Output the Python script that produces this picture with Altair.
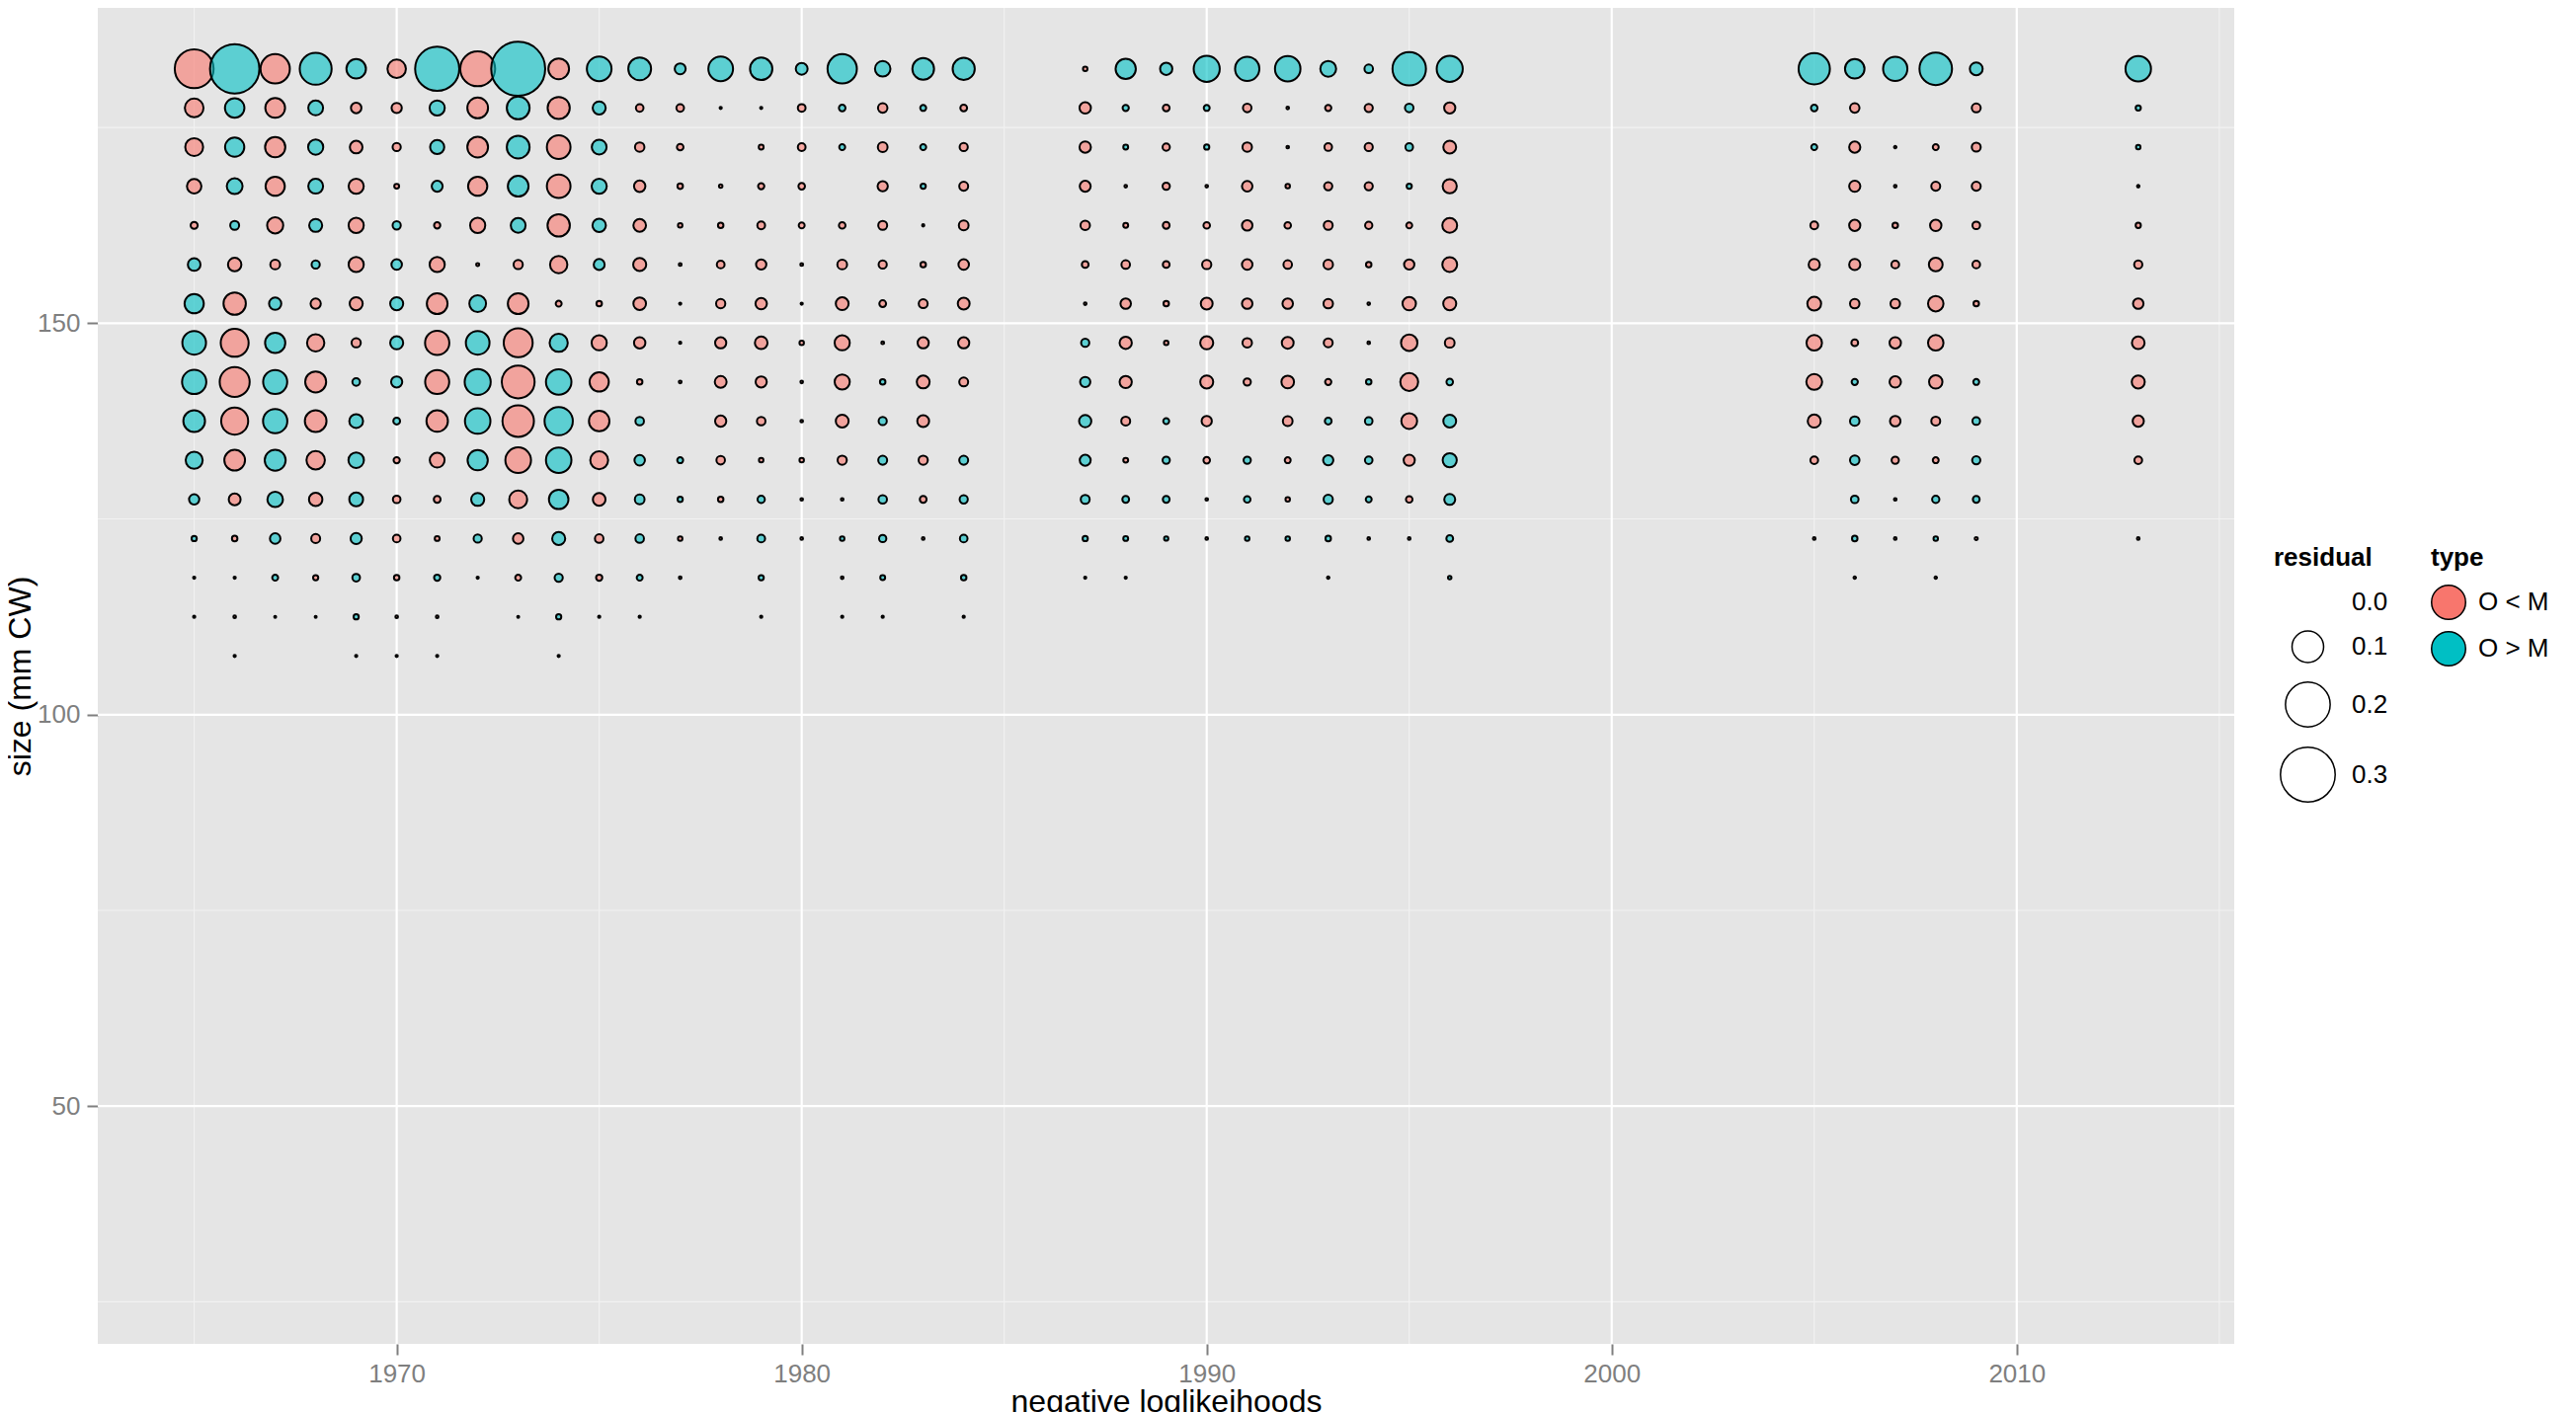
import altair as alt
import pandas as pd

# ---- data -------------------------------------------------------------
years = [1965, 1966, 1967, 1968, 1969, 1970, 1971, 1972, 1973, 1974,
         1975, 1976, 1977, 1978, 1979, 1980, 1981, 1982, 1983, 1984,
         1987, 1988, 1989, 1990, 1991, 1992, 1993, 1994, 1995, 1996,
         2005, 2006, 2007, 2008, 2009,
         2013]

size_classes = [182.5, 177.5, 172.5, 167.5, 162.5, 157.5, 152.5, 147.5,
                142.5, 137.5, 132.5, 127.5, 122.5, 117.5, 112.5, 107.5]

# signed residuals: positive = "O > M", negative = "O < M", None = no point
r182_5 = [-0.151, 0.244, -0.086, 0.102, 0.038, -0.034, 0.195, -0.122, 0.292, -0.043,
          0.061, 0.052, 0.012, 0.061, 0.050, 0.014, 0.086, 0.024, 0.047, 0.049,
          -0.002, 0.041, 0.015, 0.068, 0.059, 0.065, 0.025, 0.0073, 0.112, 0.068,
          0.098, 0.038, 0.059, 0.106, 0.0165,
          0.065]
r177_5 = [-0.035, 0.038, -0.039, 0.022, -0.011, -0.0105, 0.023, -0.043, 0.052, -0.049,
          0.017, -0.0058, -0.0058, -0.0005, -0.0005, -0.006, 0.0043, -0.009, 0.0035, -0.0046,
          -0.013, 0.0039, -0.0046, 0.0035, -0.0073, -0.0007, -0.0039, -0.0067, 0.0073, -0.0125,
          0.0043, -0.009, None, None, -0.008,
          0.0027]
r172_5 = [-0.032, 0.037, -0.041, 0.023, -0.016, -0.0067, 0.020, -0.043, 0.052, -0.056,
          0.022, -0.009, -0.0043, None, -0.0024, -0.006, 0.0035, -0.0095, 0.0035, -0.0067,
          -0.013, 0.0024, -0.0053, 0.0027, -0.009, -0.0007, -0.0058, -0.0067, 0.0058, -0.0165,
          0.0035, -0.0125, -0.0006, -0.0035, -0.008,
          0.002]
r167_5 = [-0.021, 0.025, -0.037, 0.022, -0.023, -0.0024, 0.012, -0.037, 0.043, -0.056,
          0.023, -0.013, -0.003, -0.0012, -0.0039, -0.0043, None, -0.0105, 0.0027, -0.008,
          -0.012, -0.0007, -0.0053, -0.0007, -0.011, -0.002, -0.0067, -0.0067, 0.0027, -0.020,
          None, -0.0125, -0.0007, -0.008, -0.008,
          -0.0006]
r162_5 = [-0.005, 0.008, -0.026, 0.017, -0.023, 0.0067, -0.0039, -0.023, 0.022, -0.050,
          0.018, -0.016, -0.002, -0.003, -0.006, -0.0035, -0.0043, -0.008, -0.0005, -0.0095,
          -0.009, -0.0024, -0.0046, -0.0043, -0.011, -0.0043, -0.008, -0.0053, -0.0035, -0.022,
          -0.006, -0.0125, -0.003, -0.013, -0.0058,
          -0.0027]
r157_5 = [0.016, -0.018, -0.0095, 0.0067, -0.023, 0.011, -0.023, -0.0009, -0.0085, -0.030,
          0.012, -0.017, -0.0008, -0.006, -0.0105, -0.0008, -0.0095, -0.0067, -0.003, -0.011,
          -0.0046, -0.0073, -0.0046, -0.0085, -0.011, -0.0073, -0.009, -0.003, -0.0105, -0.022,
          -0.0125, -0.0125, -0.006, -0.019, -0.0058,
          -0.0067]
r152_5 = [0.037, -0.050, 0.015, -0.0105, -0.017, 0.017, -0.043, 0.028, -0.043, -0.0035,
          -0.003, -0.016, -0.0005, -0.0085, -0.013, -0.0005, -0.0165, -0.0046, -0.008, -0.014,
          -0.0007, -0.011, -0.003, -0.014, -0.011, -0.011, -0.009, -0.0007, -0.018, -0.017,
          -0.019, -0.009, -0.009, -0.024, -0.003,
          -0.011]
r147_5 = [0.056, -0.078, 0.041, -0.030, -0.0085, 0.017, -0.059, 0.056, -0.084, 0.033,
          -0.023, -0.013, -0.0005, -0.0125, -0.016, -0.002, -0.023, -0.0008, -0.0125, -0.0125,
          0.0067, -0.015, -0.002, -0.017, -0.009, -0.014, -0.008, -0.0007, -0.027, -0.0095,
          -0.024, -0.0046, -0.013, -0.024, None,
          -0.016]
r142_5 = [0.059, -0.090, 0.058, -0.044, 0.0058, 0.0125, -0.058, 0.068, -0.108, 0.065,
          -0.037, -0.003, -0.0008, -0.014, -0.0125, -0.0007, -0.023, 0.003, -0.0165, -0.008,
          0.0105, -0.015, None, -0.017, -0.0053, -0.016, -0.0039, 0.003, -0.032, 0.0043,
          -0.025, 0.0039, -0.013, -0.018, 0.0035,
          -0.017]
r137_5 = [0.047, -0.073, 0.059, -0.047, 0.019, 0.0046, -0.046, 0.065, -0.099, 0.080,
          -0.042, 0.0073, None, -0.0125, -0.0073, -0.0007, -0.0165, 0.0067, -0.014, None,
          0.015, -0.008, 0.0035, -0.0105, None, -0.0095, 0.0046, 0.0058, -0.025, 0.0165,
          -0.017, 0.009, -0.011, -0.008, 0.0058,
          -0.0125]
r132_5 = [0.029, -0.043, 0.044, -0.034, 0.024, -0.0039, -0.022, 0.041, -0.066, 0.065,
          -0.032, 0.011, 0.0035, -0.0073, -0.002, -0.002, -0.0085, 0.008, -0.0085, 0.008,
          0.012, -0.0024, 0.0053, -0.0043, 0.0053, -0.0035, 0.0105, 0.0058, -0.0125, 0.020,
          -0.006, 0.009, -0.0053, -0.0035, 0.0067,
          -0.006]
r127_5 = [0.0105, -0.014, 0.024, -0.018, 0.019, -0.0058, -0.0046, 0.017, -0.032, 0.038,
          -0.016, 0.0095, 0.0027, -0.003, 0.0053, -0.0007, -0.0007, 0.0073, -0.0046, 0.0067,
          0.008, 0.0046, 0.0046, -0.0007, 0.0043, -0.002, 0.0085, 0.0035, -0.0043, 0.012,
          None, 0.0058, -0.0007, 0.0053, 0.0046,
          None]
r122_5 = [0.0027, -0.003, 0.011, -0.008, 0.0125, -0.0058, -0.0024, 0.0067, -0.011, 0.017,
          -0.0073, 0.0073, -0.002, -0.0007, 0.006, -0.0007, 0.002, 0.0053, -0.0007, 0.0058,
          0.0027, 0.0024, 0.0018, -0.0007, 0.002, 0.002, 0.003, -0.0007, -0.0007, 0.0046,
          -0.0007, 0.003, -0.0007, 0.002, -0.0009,
          -0.0007]
r117_5 = [-0.0005, -0.0005, 0.0035, -0.0027, 0.0058, -0.003, 0.0039, -0.0005, -0.0035, 0.0067,
          -0.0039, 0.0035, -0.0007, None, 0.0027, None, -0.0007, 0.0024, None, 0.003,
          -0.0005, -0.0005, None, None, None, None, -0.0006, None, None, 0.0012,
          None, -0.0006, None, -0.0006, None,
          None]
r112_5 = [-0.0005, -0.0007, -0.0004, -0.0004, 0.0027, -0.0007, -0.0007, None, -0.0004, 0.0027,
          -0.0005, -0.0005, None, None, -0.0005, None, -0.0005, -0.0005, None, -0.0005,
          None, None, None, None, None, None, None, None, None, None,
          None, None, None, None, None,
          None]
r107_5 = [None, -0.0005, None, None, -0.0005, -0.0005, -0.0005, None, None, -0.0005,
          None, None, None, None, None, None, None, None, None, None,
          None, None, None, None, None, None, None, None, None, None,
          None, None, None, None, None,
          None]

residual_rows = [r182_5, r177_5, r172_5, r167_5, r162_5, r157_5, r152_5, r147_5,
                 r142_5, r137_5, r132_5, r127_5, r122_5, r117_5, r112_5, r107_5]

type_labels = ["O < M", "O > M"]
type_colors = ["#F8766D", "#00BFC4"]
residual_legend_values = [0.0, 0.1, 0.2, 0.3]

x_major = [1970, 1980, 1990, 2000, 2010]
x_minor = [1965, 1975, 1985, 1995, 2005, 2015]
y_major = [50, 100, 150]
y_minor = [25, 75, 125, 175]

# ---- build table -------------------------------------------------------
records = []
for sc, vals in zip(size_classes, residual_rows):
    for yr, v in zip(years, vals):
        if v is None:
            continue
        records.append({
            "year": yr,
            "size": sc,
            "residual": abs(v),
            "type": type_labels[1] if v > 0 else type_labels[0],
        })
df = pd.DataFrame(records)

FONT = "Liberation Sans"
PLOT_W, PLOT_H = 2163, 1353
X_TITLE = "negative loglikeihoods"
Y_TITLE = "size (mm CW)"

xscale = alt.Scale(domain=[1962.62, 2015.37], nice=False, zero=False)
yscale = alt.Scale(domain=[19.63, 190.28], nice=False, zero=False)


def xaxis():
    return alt.Axis(values=x_major, format="d", title=X_TITLE,
                    labelPadding=6, titlePadding=0)


def yaxis():
    return alt.Axis(values=y_major, format="d", title=Y_TITLE,
                    labelPadding=7, titlePadding=0)


vminor = alt.Chart(pd.DataFrame({"v": x_minor})).mark_rule(
    color="#F2F2F2", strokeWidth=1.1
).encode(x=alt.X("v:Q", scale=xscale, axis=xaxis()))

hminor = alt.Chart(pd.DataFrame({"v": y_minor})).mark_rule(
    color="#F2F2F2", strokeWidth=1.1
).encode(y=alt.Y("v:Q", scale=yscale, axis=yaxis()))

vmajor = alt.Chart(pd.DataFrame({"v": x_major})).mark_rule(
    color="#FFFFFF", strokeWidth=2.2
).encode(x=alt.X("v:Q", scale=xscale, axis=xaxis()))

hmajor = alt.Chart(pd.DataFrame({"v": y_major})).mark_rule(
    color="#FFFFFF", strokeWidth=2.2
).encode(y=alt.Y("v:Q", scale=yscale, axis=yaxis()))

points = alt.Chart(df).mark_circle(
    stroke="black", strokeWidth=2, fillOpacity=0.6, opacity=1
).encode(
    x=alt.X("year:Q", scale=xscale, axis=xaxis()),
    y=alt.Y("size:Q", scale=yscale, axis=yaxis()),
    size=alt.Size("residual:Q",
                  scale=alt.Scale(domain=[0, 0.3], range=[0, 3072], zero=True),
                  legend=alt.Legend(values=residual_legend_values, format=".1f",
                                    title="residual", orient="none",
                                    legendX=2203, legendY=544,
                                    symbolFillColor="transparent",
                                    symbolStrokeColor="black",
                                    symbolStrokeWidth=1.5,
                                    symbolOpacity=1,
                                    symbolOffset=6,
                                    titlePadding=19,
                                    labelOffset=16, rowPadding=13)),
    fill=alt.Fill("type:N",
                  scale=alt.Scale(domain=type_labels, range=type_colors),
                  legend=alt.Legend(title="type", orient="none",
                                    legendX=2362, legendY=544,
                                    symbolSize=1190, symbolOpacity=1,
                                    symbolStrokeColor="black",
                                    symbolStrokeWidth=1.5,
                                    titlePadding=14,
                                    labelOffset=12, rowPadding=5)),
    order=alt.Order("year:Q"),
)

chart = alt.layer(vminor, hminor, vmajor, hmajor, points).properties(
    width=PLOT_W, height=PLOT_H,
    autosize=alt.AutoSizeParams(type="none"),
    padding={"left": 91, "top": 0, "right": 338, "bottom": 69},
).configure_view(
    fill="#E5E5E5", stroke=None
).configure_axis(
    domain=False, grid=False,
    tickColor="#7F7F7F", tickSize=11, tickWidth=2,
    labelFont=FONT, labelFontSize=26, labelColor="#7F7F7F",
    titleFont=FONT, titleFontSize=32, titleFontWeight="normal", titleColor="black",
).configure_legend(
    titleFont=FONT, titleFontSize=26, titleFontWeight="bold", titleColor="black",
    labelFont=FONT, labelFontSize=26, labelColor="black",
    padding=0,
)

chart.save("out.html", embed_options={"renderer": "svg", "actions": False})
